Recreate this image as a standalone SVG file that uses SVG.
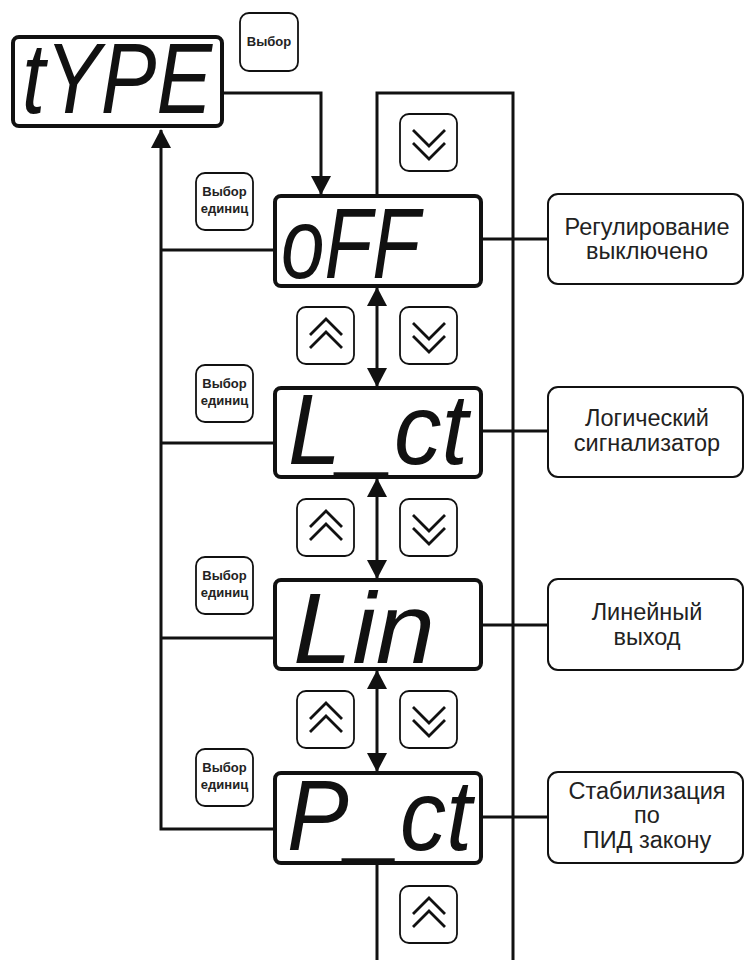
<svg xmlns="http://www.w3.org/2000/svg" width="745" height="960" viewBox="0 0 745 960">
<style>
.disp{fill:#fff;stroke:#111;stroke-width:4}
.seg{font-family:"Liberation Sans",Arial,sans-serif;font-style:italic;font-size:100px;fill:#111}
.btn{fill:#fff;stroke:#111;stroke-width:1.8}
.btxt{font-family:"Liberation Sans",Arial,sans-serif;font-weight:bold;font-size:13px;fill:#222;text-anchor:middle}
.box{fill:#fff;stroke:#111;stroke-width:2}
.lbl{font-family:"Liberation Sans",Arial,sans-serif;font-size:23.5px;fill:#222;text-anchor:middle}
.ln{fill:none;stroke:#111;stroke-width:3}
.chev{fill:none;stroke:#111;stroke-width:2.8}
</style>
<defs>
<marker id="ah" markerUnits="userSpaceOnUse" markerWidth="20" markerHeight="20" refX="18" refY="10" orient="auto-start-reverse" viewBox="0 0 20 20">
<path d="M0,0 L19,10 L0,20 z" fill="#111"/>
</marker>
<g id="up">
<rect class="btn" x="0" y="0" width="57" height="57" rx="9"/>
<path class="chev" d="M13,28 L29,12 L45,28 M13,41 L29,25 L45,41"/>
</g>
<g id="down">
<rect class="btn" x="0" y="0" width="57" height="57" rx="9"/>
<path class="chev" d="M13,16 L29,32 L45,16 M13,29 L29,45 L45,29"/>
</g>
<g id="sel">
<rect class="btn" x="0" y="0" width="57" height="57" rx="9"/>
<text class="btxt" x="28.5" y="23">Выбор</text>
<text class="btxt" x="28.5" y="40">единиц</text>
</g>
</defs>
<rect width="745" height="960" fill="#fff"/>

<g id="connectors">
<path class="ln" d="M222,93 H321 V194" marker-end="url(#ah)"/>
<path class="ln" d="M377,196 V93 H513 V960"/>
<path class="ln" d="M377,863 V960"/>
<path class="ln" d="M377,288 V386" marker-start="url(#ah)" marker-end="url(#ah)"/>
<path class="ln" d="M377,479 V578" marker-start="url(#ah)" marker-end="url(#ah)"/>
<path class="ln" d="M377,671 V771" marker-start="url(#ah)" marker-end="url(#ah)"/>
<path class="ln" d="M275,829 H161 V130" marker-end="url(#ah)"/>
<path class="ln" d="M161,250 H275 M161,443 H275 M161,638 H275"/>
<path class="ln" d="M481,239 H548 M481,431 H548 M481,625 H548 M481,817 H548"/>
</g>

<g id="btn-select-top">
<rect class="btn" x="240" y="13" width="58" height="58" rx="9"/>
<text class="btxt" x="269" y="46">Выбор</text>
</g>

<g id="disp-type">
<rect class="disp" x="13" y="37" width="209" height="89" rx="6"/>
<text class="seg" x="22" y="113" textLength="190" lengthAdjust="spacingAndGlyphs">tYPE</text>
</g>

<g id="btn-down-top"><use href="#down" x="400" y="114"/></g>

<g id="disp-off">
<rect class="disp" x="275" y="196" width="206" height="90" rx="6"/>
<text class="seg" x="281" y="278" textLength="139" lengthAdjust="spacingAndGlyphs">oFF</text>
</g>
<g id="sel1"><use href="#sel" x="196" y="173"/></g>
<g id="box-off">
<rect class="box" x="548" y="194" width="195" height="90" rx="10"/>
<text class="lbl" x="647" y="235">Регулирование</text>
<text class="lbl" x="647" y="259">выключено</text>
</g>

<g id="btns1"><use href="#up" x="297" y="307"/><use href="#down" x="400" y="307"/></g>

<g id="disp-lct">
<rect class="disp" x="275" y="388" width="206" height="89" rx="6"/>
<text class="seg" x="288" y="464" textLength="180" lengthAdjust="spacingAndGlyphs">L_ct</text>
</g>
<g id="sel2"><use href="#sel" x="196" y="365"/></g>
<g id="box-lct">
<rect class="box" x="548" y="387" width="195" height="90" rx="10"/>
<text class="lbl" x="647" y="426">Логический</text>
<text class="lbl" x="647" y="451">сигнализатор</text>
</g>

<g id="btns2"><use href="#up" x="297" y="499"/><use href="#down" x="400" y="499"/></g>

<g id="disp-lin">
<rect class="disp" x="275" y="580" width="206" height="89" rx="6"/>
<text class="seg" x="293" y="663" textLength="142" lengthAdjust="spacingAndGlyphs">Lin</text>
</g>
<g id="sel3"><use href="#sel" x="196" y="557"/></g>
<g id="box-lin">
<rect class="box" x="548" y="579" width="195" height="91" rx="10"/>
<text class="lbl" x="647" y="620">Линейный</text>
<text class="lbl" x="647" y="645">выход</text>
</g>

<g id="btns3"><use href="#up" x="297" y="691"/><use href="#down" x="400" y="691"/></g>

<g id="disp-pct">
<rect class="disp" x="275" y="773" width="206" height="90" rx="6"/>
<text class="seg" x="287" y="850" textLength="185" lengthAdjust="spacingAndGlyphs">P_ct</text>
</g>
<g id="sel4"><use href="#sel" x="196" y="749"/></g>
<g id="box-pct">
<rect class="box" x="548" y="772" width="195" height="91" rx="10"/>
<text class="lbl" x="647" y="799">Стабилизация</text>
<text class="lbl" x="647" y="823">по</text>
<text class="lbl" x="647" y="848">ПИД закону</text>
</g>

<g id="btn-up-bottom"><use href="#up" x="400" y="886"/></g>
</svg>
